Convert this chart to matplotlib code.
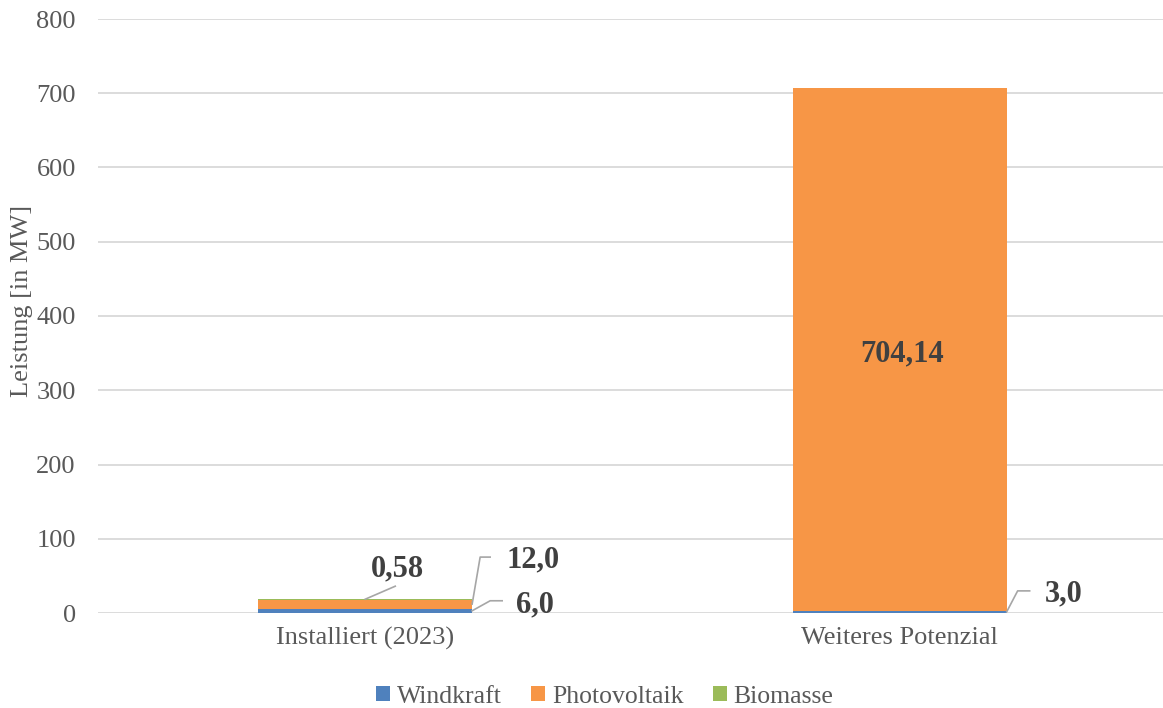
import matplotlib.pyplot as plt
import numpy as np

categories = ["Installiert (2023)", "Weiteres Potenzial"]
windkraft = [6.0, 3.0]
photovoltaik = [12.0, 704.14]
biomasse = [0.58, 0.0]
yticks = [0, 100, 200, 300, 400, 500, 600, 700, 800]

plt.rcParams["font.family"] = ["Liberation Serif", "DejaVu Serif"]

fig = plt.figure(figsize=(11.63, 7.08), dpi=100)
ax = fig.add_axes([98 / 1163, 95 / 708, 1069 / 1163, 594 / 708])

x = np.arange(len(categories))
w = 0.4
wind = np.array(windkraft)
pv = np.array(photovoltaik)
bio = np.array(biomasse)

ax.bar(x, wind, w, color="#4F81BD", label="Windkraft", zorder=3)
ax.bar(x, pv, w, bottom=wind, color="#F79646", label="Photovoltaik", zorder=3)
ax.bar(x, bio, w, bottom=wind + pv, color="#9BBB59", label="Biomasse", zorder=3)

ax.set_xlim(-0.5, 1.5)
ax.set_ylim(0, 800)
ax.set_yticks(yticks)
ax.set_xticks(x)
ax.set_xticklabels(categories)
ax.grid(axis="y", color="#D9D9D9", lw=1.3, zorder=0)
for s in ax.spines.values():
    s.set_visible(False)
ax.tick_params(axis="both", length=0, labelsize=19, colors="#595959")
ax.tick_params(axis="y", pad=16)
ax.tick_params(axis="x", pad=10)
ax.set_ylabel("Leistung [in MW]", fontsize=19, color="#595959")
ax.yaxis.set_label_coords(-0.061, 0.525)


def fmt(v, d):
    return f"{v:.{d}f}".replace(".", ",")


def label(xd, yd, text, toff, path=None):
    # path/toff are pixel offsets (screen: +x right, +y down)
    px, py = ax.transData.transform((xd, yd))
    if path:
        pts = [(px, py)] + [(px + dx, py - dy) for dx, dy in path]
        dpts = ax.transData.inverted().transform(pts)
        ax.plot(dpts[:, 0], dpts[:, 1], color="#A6A6A6", lw=1.2,
                clip_on=False, zorder=4)
    ax.annotate(text, (xd, yd), xytext=(toff[0], -toff[1]),
                textcoords="offset pixels", ha="center", va="center",
                fontsize=22, fontweight="bold", color="#404040", zorder=5)


# Installiert (2023)
label(x[0] + w / 2, wind[0] / 2, fmt(wind[0], 1), (63, -6), [(18, -10), (30, -10)])
label(x[0] + w / 2, wind[0] + pv[0] / 2, fmt(pv[0], 1), (61, -44), [(8, -47), (18, -47)])
label(x[0], wind[0] + pv[0] + bio[0], fmt(bio[0], 2), (32, -30), [(30, -13)])
# Weiteres Potenzial
label(x[1] + w / 2, wind[1] / 2, fmt(wind[1], 1), (57, -18), [(11, -21), (23, -21)])
label(x[1], wind[1] + pv[1] / 2, fmt(pv[1], 2), (2, 5))

fig.legend(loc="center", bbox_to_anchor=(0.52, 0.016), ncol=3, frameon=False,
           fontsize=18.5, handlelength=0.55, handleheight=0.55, handletextpad=0.25,
           columnspacing=1.15, labelcolor="#595959")

plt.savefig("out.png", dpi=100)
